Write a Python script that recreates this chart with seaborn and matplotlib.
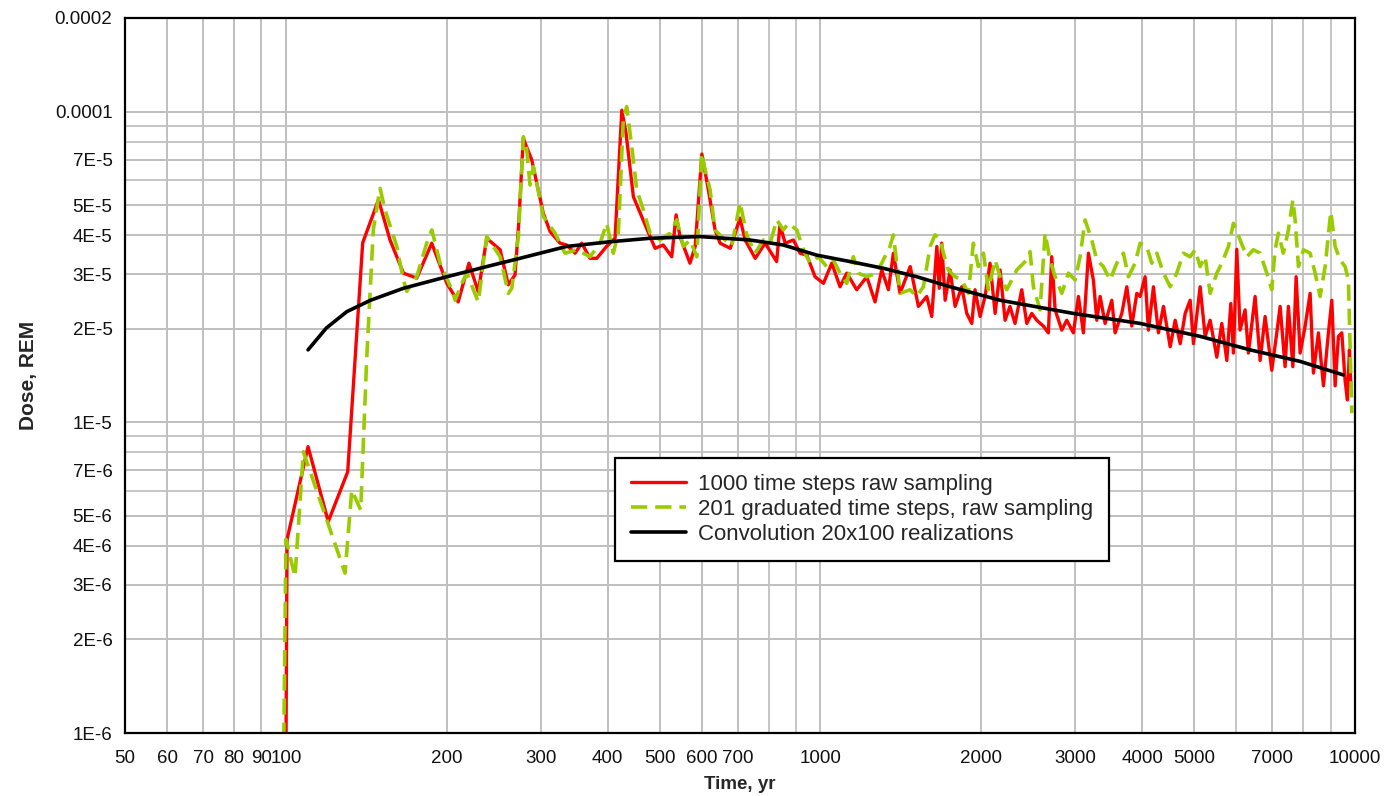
import numpy as np
import pandas as pd
import matplotlib
matplotlib.use("Agg")
import matplotlib.pyplot as plt
import seaborn as sns
from matplotlib.ticker import FixedLocator, FixedFormatter, NullFormatter

# ---------------- data ----------------
red_t = [100, 100.5, 110, 120, 130.5, 139.2, 149, 156.6, 165.9, 175.7, 187.4, 200, 210, 220, 229,
         237.5, 251.6, 260.6, 268.3, 272.7, 278, 288.4, 303, 312, 325.7, 335, 347.5, 357.6, 370.7,
         381.5, 398, 412.8, 425, 432.9, 446.7, 463, 480, 490.5, 508, 527, 537, 546, 570, 583, 600,
         617, 635, 649, 678, 707, 723, 755, 788, 828, 840, 859, 890, 916, 943, 977, 1013, 1050,
         1088, 1120, 1169, 1221, 1265, 1302, 1340, 1369, 1409, 1472, 1525, 1581, 1615, 1651, 1668,
         1686, 1711, 1748, 1786, 1838, 1878, 1919, 1946, 1989, 2032, 2076, 2122, 2168, 2215, 2262,
         2312, 2380, 2432, 2485, 2539, 2612, 2669, 2708, 2748, 2828, 2889, 2973, 3038, 3104, 3172,
         3241, 3288, 3336, 3408, 3508, 3558, 3662, 3742, 3823, 3907, 3963, 4049, 4107, 4197, 4288,
         4382, 4511, 4609, 4709, 4812, 4916, 4987, 5132, 5244, 5358, 5514, 5634, 5757, 5857, 5923,
         6010, 6095, 6229, 6318, 6503, 6645, 6789, 6987, 7140, 7243, 7400, 7506, 7651, 7760, 7895,
         8067, 8242, 8360, 8542, 8729, 8918, 9050, 9180, 9311, 9447, 9583, 9679, 9764, 9822]
red_dose = [8e-7, 4.2e-6, 8.35e-6, 4.79e-6, 6.93e-6, 3.78e-5, 5.2e-5, 3.86e-5, 3.02e-5, 2.91e-5,
            3.77e-5, 2.8e-5, 2.44e-5, 3.25e-5, 2.63e-5, 3.91e-5, 3.59e-5, 2.77e-5, 2.98e-5, 4.4e-5,
            8.2e-5, 6.98e-5, 4.71e-5, 4.11e-5, 3.77e-5, 3.72e-5, 3.5e-5, 3.77e-5, 3.37e-5, 3.37e-5,
            3.68e-5, 3.91e-5, 1.01e-4, 8.5e-5, 5.32e-5, 4.59e-5, 3.96e-5, 3.63e-5, 3.72e-5, 3.41e-5,
            4.65e-5, 3.96e-5, 3.25e-5, 3.68e-5, 7.3e-5, 5.6e-5, 4.16e-5, 3.77e-5, 3.63e-5, 4.54e-5,
            3.86e-5, 3.37e-5, 3.77e-5, 3.29e-5, 4.32e-5, 3.77e-5, 3.86e-5, 3.5e-5, 3.45e-5, 2.94e-5,
            2.8e-5, 3.25e-5, 2.73e-5, 3.02e-5, 2.67e-5, 2.94e-5, 2.44e-5, 3.09e-5, 2.67e-5, 3.5e-5,
            2.6e-5, 3.17e-5, 2.36e-5, 2.54e-5, 2.19e-5, 3.68e-5, 2.7e-5, 3.77e-5, 2.47e-5, 3.09e-5,
            2.36e-5, 2.73e-5, 2.24e-5, 2.08e-5, 2.67e-5, 2.19e-5, 2.54e-5, 3.25e-5, 2.24e-5, 3.09e-5,
            2.13e-5, 2.36e-5, 2.08e-5, 2.67e-5, 2.08e-5, 2.24e-5, 2.13e-5, 2.04e-5, 1.94e-5, 3.41e-5,
            2.3e-5, 1.98e-5, 2.13e-5, 1.94e-5, 2.54e-5, 1.94e-5, 3.5e-5, 2.86e-5, 2.13e-5, 2.54e-5,
            2.08e-5, 2.47e-5, 1.94e-5, 2.24e-5, 2.73e-5, 2.04e-5, 2.6e-5, 2.54e-5, 2.94e-5, 1.98e-5,
            2.73e-5, 1.94e-5, 2.36e-5, 1.75e-5, 2.13e-5, 1.79e-5, 2.24e-5, 2.47e-5, 1.79e-5, 2.73e-5,
            1.89e-5, 2.13e-5, 1.62e-5, 2.08e-5, 1.58e-5, 2.41e-5, 1.67e-5, 3.6e-5, 1.98e-5, 2.3e-5,
            1.67e-5, 2.54e-5, 1.58e-5, 2.19e-5, 1.47e-5, 1.94e-5, 2.36e-5, 1.51e-5, 2.36e-5, 1.51e-5,
            2.94e-5, 1.67e-5, 2.04e-5, 2.6e-5, 1.44e-5, 1.94e-5, 1.31e-5, 1.94e-5, 2.47e-5, 1.31e-5,
            1.89e-5, 1.94e-5, 1.36e-5, 1.18e-5, 1.71e-5, 1.31e-5]

green_t = [99, 100, 104, 107.8, 129, 132.8, 138, 141.6, 145.7, 150, 153.3, 161.2, 165.9, 168.3,
           175.7, 183.4, 187.5, 194.3, 204.3, 207.3, 213.3, 218, 229, 237.5, 251.6, 260.7, 264.6,
           272.2, 278.1, 282.2, 286.2, 290.4, 303.1, 318.8, 332.8, 349.9, 370.7, 387, 398.2, 409.7,
           418.6, 427.7, 434, 443.6, 453.2, 466.4, 480, 501, 523.3, 538.6, 554, 570.2, 587, 599.8,
           608.4, 621.6, 635, 658.1, 682.4, 707.3, 728, 754.6, 782, 805, 828.6, 852.5, 870.9, 903,
           929, 956, 991, 1027, 1057, 1088, 1120, 1152, 1177, 1221, 1274, 1311, 1349, 1369, 1389,
           1409, 1471, 1514, 1558, 1604, 1638, 1674, 1698, 1735, 1786, 1838, 1891, 1932, 1974, 2018,
           2061, 2122, 2168, 2231, 2329, 2432, 2467, 2502, 2575, 2632, 2688, 2748, 2828, 2910, 2995,
           3060, 3126, 3218, 3288, 3382, 3481, 3584, 3688, 3768, 3878, 3963, 4077, 4168, 4258, 4382,
           4511, 4640, 4775, 4916, 5022, 5132, 5244, 5358, 5514, 5634, 5798, 5923, 6095, 6275, 6455,
           6645, 6839, 6987, 7087, 7190, 7345, 7506, 7651, 7727, 7838, 8010, 8242, 8422, 8604, 8793,
           9010, 9180, 9378, 9583, 9720, 9790, 9863]
green_dose = [8e-7, 4.2e-6, 3.18e-6, 8.04e-6, 3.27e-6, 6.05e-6, 5.22e-6, 1.59e-5, 4.16e-5, 5.66e-5,
              4.82e-5, 3.68e-5, 2.87e-5, 2.64e-5, 2.94e-5, 3.77e-5, 4.16e-5, 3.25e-5, 2.67e-5, 2.47e-5,
              2.8e-5, 3.02e-5, 2.44e-5, 3.96e-5, 3.41e-5, 2.6e-5, 2.7e-5, 3.96e-5, 8.3e-5, 7.52e-5,
              5.8e-5, 6.65e-5, 4.59e-5, 4.06e-5, 3.5e-5, 3.59e-5, 3.41e-5, 3.77e-5, 4.37e-5, 3.5e-5,
              4.06e-5, 9.4e-5, 1.037e-4, 7.71e-5, 5.6e-5, 4.82e-5, 4.06e-5, 3.86e-5, 4.06e-5, 4.48e-5,
              3.68e-5, 3.86e-5, 3.41e-5, 7.34e-5, 6.49e-5, 5.6e-5, 4.16e-5, 3.9e-5, 3.7e-5, 5.1e-5,
              4.0e-5, 3.5e-5, 3.86e-5, 3.77e-5, 4.48e-5, 4.16e-5, 4.37e-5, 4.16e-5, 3.59e-5, 3.25e-5,
              3.41e-5, 3.17e-5, 3.33e-5, 3.02e-5, 2.8e-5, 3.41e-5, 3.02e-5, 2.94e-5, 3.02e-5, 3.33e-5,
              3.68e-5, 4.01e-5, 3.25e-5, 2.6e-5, 2.67e-5, 2.54e-5, 2.73e-5, 3.68e-5, 4.01e-5, 3.9e-5,
              3.5e-5, 3.09e-5, 2.94e-5, 2.87e-5, 2.6e-5, 3.77e-5, 3.17e-5, 3.5e-5, 2.67e-5, 3.33e-5,
              2.94e-5, 2.67e-5, 3.09e-5, 3.33e-5, 3.54e-5, 2.73e-5, 2.3e-5, 4.06e-5, 3.33e-5, 2.94e-5,
              2.6e-5, 3.02e-5, 2.87e-5, 3.41e-5, 4.48e-5, 3.86e-5, 3.33e-5, 3.17e-5, 2.87e-5, 3.25e-5,
              3.5e-5, 2.94e-5, 3.25e-5, 3.77e-5, 3.68e-5, 3.25e-5, 3.5e-5, 3.02e-5, 2.73e-5, 3.02e-5,
              3.5e-5, 3.41e-5, 3.59e-5, 3.17e-5, 3.41e-5, 2.6e-5, 3.02e-5, 3.25e-5, 3.68e-5, 4.37e-5,
              3.86e-5, 3.41e-5, 3.59e-5, 3.5e-5, 3.02e-5, 2.67e-5, 3.59e-5, 4.06e-5, 3.5e-5, 4.16e-5,
              5.19e-5, 4.48e-5, 3.17e-5, 3.59e-5, 3.5e-5, 3.02e-5, 2.54e-5, 3.17e-5, 4.76e-5, 3.68e-5,
              3.33e-5, 3.17e-5, 2.87e-5, 1.75e-5, 1.07e-5]

conv_t = [110, 119, 130, 144, 166, 200, 237.5, 274, 335, 404, 480, 595, 738, 852, 984, 1136, 1311,
          1514, 1748, 2168, 2973, 3963, 5132, 6363, 7895, 9512]
conv_dose = [1.71e-5, 2.01e-5, 2.27e-5, 2.47e-5, 2.7e-5, 2.94e-5, 3.17e-5, 3.37e-5, 3.68e-5, 3.81e-5,
             3.91e-5, 3.96e-5, 3.86e-5, 3.72e-5, 3.45e-5, 3.29e-5, 3.13e-5, 2.94e-5, 2.73e-5, 2.47e-5,
             2.24e-5, 2.08e-5, 1.89e-5, 1.71e-5, 1.57e-5, 1.42e-5]

series_names = ["1000 time steps raw sampling",
                "201 graduated time steps, raw sampling",
                "Convolution 20x100 realizations"]

x_tick_vals = [50, 60, 70, 80, 90, 100, 200, 300, 400, 500, 600, 700, 1000, 2000, 3000, 4000,
               5000, 7000, 10000]
x_tick_labels = [str(v) for v in x_tick_vals]
x_grid_vals = [60, 70, 80, 90, 100, 200, 300, 400, 500, 600, 700, 800, 900, 1000, 2000, 3000,
               4000, 5000, 6000, 7000, 8000, 9000]
y_tick_vals = [1e-6, 2e-6, 3e-6, 4e-6, 5e-6, 7e-6, 1e-5, 2e-5, 3e-5, 4e-5, 5e-5, 7e-5, 1e-4, 2e-4]
y_tick_labels = ["1E-6", "2E-6", "3E-6", "4E-6", "5E-6", "7E-6", "1E-5", "2E-5", "3E-5", "4E-5",
                 "5E-5", "7E-5", "0.0001", "0.0002"]
y_grid_vals = [2e-6, 3e-6, 4e-6, 5e-6, 6e-6, 7e-6, 8e-6, 9e-6, 1e-5, 2e-5, 3e-5, 4e-5, 5e-5,
               6e-5, 7e-5, 8e-5, 9e-5, 1e-4]

# ---------------- style ----------------
sns.set_theme(style="white")
plt.rcParams["font.family"] = ["Liberation Sans", "DejaVu Sans"]

fig = plt.figure(figsize=(13.91, 7.96), dpi=100)
ax = fig.add_axes([125 / 1391, 1 - 733 / 796, 1230 / 1391, 715 / 796])

df_red = pd.DataFrame({"t": red_t, "dose": red_dose})
df_green = pd.DataFrame({"t": green_t, "dose": green_dose})
df_conv = pd.DataFrame({"t": conv_t, "dose": conv_dose})

sns.lineplot(data=df_red, x="t", y="dose", ax=ax, color="#ff0000", linewidth=2.4,
             estimator=None, sort=False, label=series_names[0], zorder=3)
sns.lineplot(data=df_green, x="t", y="dose", ax=ax, color="#99cc00", linewidth=2.6,
             estimator=None, sort=False, label=series_names[1], zorder=4)
sns.lineplot(data=df_conv, x="t", y="dose", ax=ax, color="#000000", linewidth=2.6,
             estimator=None, sort=False, label=series_names[2], zorder=5)
ax.lines[1].set_dashes([4.5, 2.2])

ax.set_xscale("log")
ax.set_yscale("log")
ax.set_xlim(50, 10000)
ax.set_ylim(1e-6, 2e-4)

# major ticks carry labels, minor ticks carry grid
ax.xaxis.set_major_locator(FixedLocator(x_tick_vals))
ax.xaxis.set_major_formatter(FixedFormatter(x_tick_labels))
ax.xaxis.set_minor_locator(FixedLocator(x_grid_vals))
ax.xaxis.set_minor_formatter(NullFormatter())
ax.yaxis.set_major_locator(FixedLocator(y_tick_vals))
ax.yaxis.set_major_formatter(FixedFormatter(y_tick_labels))
ax.yaxis.set_minor_locator(FixedLocator(y_grid_vals))
ax.yaxis.set_minor_formatter(NullFormatter())
ax.xaxis.remove_overlapping_locs = False
ax.yaxis.remove_overlapping_locs = False

ax.grid(True, which="both", color="#c0c0c0", linewidth=1.3)
ax.set_axisbelow(True)
ax.tick_params(axis="both", which="both", length=0)
ax.tick_params(axis="x", which="major", pad=12, labelsize=13.5, colors="#111111")
ax.tick_params(axis="y", which="major", pad=9, labelsize=13.5, colors="#111111")

for s in ax.spines.values():
    s.set_color("black")
    s.set_linewidth(1.6)
    s.set_visible(True)
    s.set_zorder(6)

ax.set_xlabel("Time, yr", fontsize=13.5, fontweight="bold", labelpad=7)
ax.set_ylabel("Dose, REM", fontsize=15, fontweight="bold", labelpad=12)

leg = ax.legend(loc="upper left", bbox_to_anchor=(0.398, 0.385), fontsize=16,
                frameon=True, fancybox=False, edgecolor="black", framealpha=1,
                handlelength=2.5, handletextpad=0.55, labelspacing=0.18, borderpad=0.72,
                borderaxespad=0)
leg.get_frame().set_linewidth(1.6)
leg.set_zorder(10)

fig.savefig("out.png", dpi=100)
